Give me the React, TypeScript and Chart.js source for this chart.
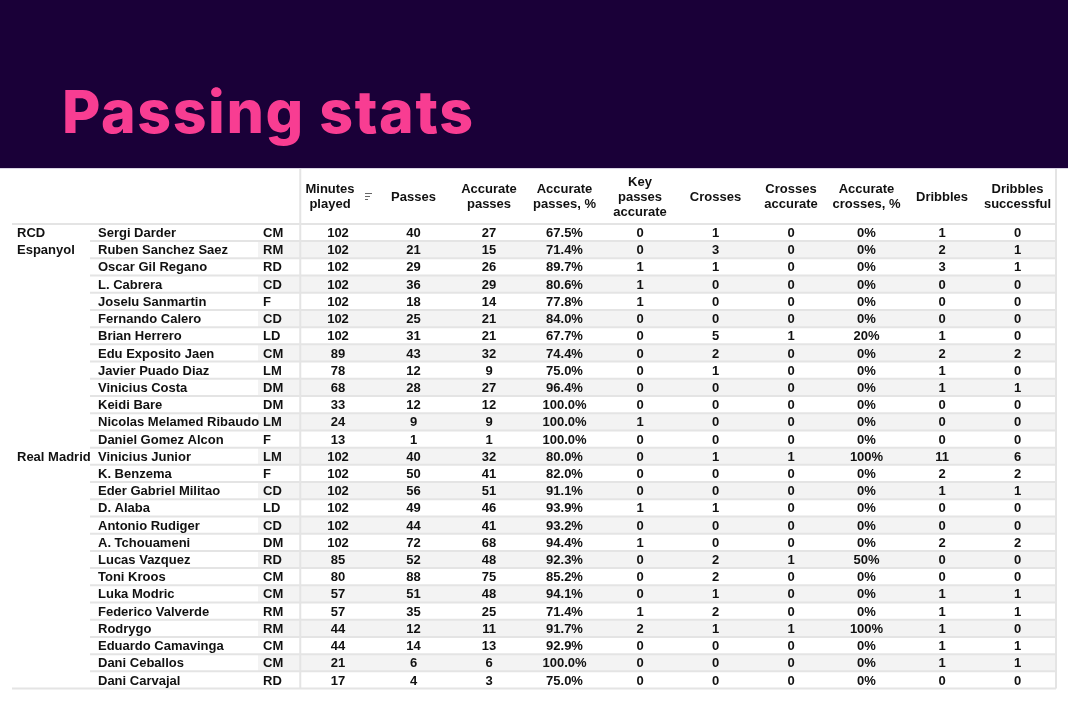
import React, { useEffect, useRef, useState } from "react";
import { Chart, registerables } from "chart.js";

Chart.register(...registerables);

// ---------- data ----------
const title = "Passing stats";

const teams = ["RCD Espanyol", "Real Madrid"];
const teamFirstRow = [0, 13];

const players = [
  "Sergi Darder", "Ruben Sanchez Saez", "Oscar Gil Regano", "L. Cabrera", "Joselu Sanmartin",
  "Fernando Calero", "Brian Herrero", "Edu Exposito Jaen", "Javier Puado Diaz", "Vinicius Costa",
  "Keidi Bare", "Nicolas Melamed Ribaudo", "Daniel Gomez Alcon",
  "Vinicius Junior", "K. Benzema", "Eder Gabriel Militao", "D. Alaba", "Antonio Rudiger",
  "A. Tchouameni", "Lucas Vazquez", "Toni Kroos", "Luka Modric", "Federico Valverde",
  "Rodrygo", "Eduardo Camavinga", "Dani Ceballos", "Dani Carvajal",
];
const positions = [
  "CM", "RM", "RD", "CD", "F", "CD", "LD", "CM", "LM", "DM", "DM", "LM", "F",
  "LM", "F", "CD", "LD", "CD", "DM", "RD", "CM", "CM", "RM", "RM", "CM", "CM", "RD",
];
const minutesPlayed = [102, 102, 102, 102, 102, 102, 102, 89, 78, 68, 33, 24, 13, 102, 102, 102, 102, 102, 102, 85, 80, 57, 57, 44, 44, 21, 17];
const passes = [40, 21, 29, 36, 18, 25, 31, 43, 12, 28, 12, 9, 1, 40, 50, 56, 49, 44, 72, 52, 88, 51, 35, 12, 14, 6, 4];
const accuratePasses = [27, 15, 26, 29, 14, 21, 21, 32, 9, 27, 12, 9, 1, 32, 41, 51, 46, 41, 68, 48, 75, 48, 25, 11, 13, 6, 3];
const accuratePassesPct = [67.5, 71.4, 89.7, 80.6, 77.8, 84.0, 67.7, 74.4, 75.0, 96.4, 100.0, 100.0, 100.0, 80.0, 82.0, 91.1, 93.9, 93.2, 94.4, 92.3, 85.2, 94.1, 71.4, 91.7, 92.9, 100.0, 75.0];
const keyPassesAccurate = [0, 0, 1, 1, 1, 0, 0, 0, 0, 0, 0, 1, 0, 0, 0, 0, 1, 0, 1, 0, 0, 0, 1, 2, 0, 0, 0];
const crosses = [1, 3, 1, 0, 0, 0, 5, 2, 1, 0, 0, 0, 0, 1, 0, 0, 1, 0, 0, 2, 2, 1, 2, 1, 0, 0, 0];
const crossesAccurate = [0, 0, 0, 0, 0, 0, 1, 0, 0, 0, 0, 0, 0, 1, 0, 0, 0, 0, 0, 1, 0, 0, 0, 1, 0, 0, 0];
const accurateCrossesPct = [0, 0, 0, 0, 0, 0, 20, 0, 0, 0, 0, 0, 0, 100, 0, 0, 0, 0, 0, 50, 0, 0, 0, 100, 0, 0, 0];
const dribbles = [1, 2, 3, 0, 0, 0, 1, 2, 1, 1, 0, 0, 0, 11, 2, 1, 0, 0, 2, 0, 0, 1, 1, 1, 1, 1, 0];
const dribblesSuccessful = [0, 1, 1, 0, 0, 0, 0, 2, 0, 1, 0, 0, 0, 6, 2, 1, 0, 0, 2, 0, 0, 1, 1, 0, 1, 1, 0];

const columnHeaders = [
  ["Minutes", "played"],
  ["Passes"],
  ["Accurate", "passes"],
  ["Accurate", "passes, %"],
  ["Key", "passes", "accurate"],
  ["Crosses"],
  ["Crosses", "accurate"],
  ["Accurate", "crosses, %"],
  ["Dribbles"],
  ["Dribbles", "successful"],
];

const statColumns = [
  minutesPlayed, passes, accuratePasses, accuratePassesPct, keyPassesAccurate,
  crosses, crossesAccurate, accurateCrossesPct, dribbles, dribblesSuccessful,
];
const columnDecimals = [null, null, null, 1, null, null, null, 0, null, null];

// ---------- layout / style ----------
const W = 1068;
const H = 712;
const BAND_H = 168;
const TITLE_WIDTH = 411;
const TABLE_LEFT = 12;
const TABLE_RIGHT = 1056;
const AREA_TOP = 170;
const AREA_BOTTOM = 700;
const COL0_PX = 338;
const COL_W = 75.5;
const ROW0_PX = 232.5;
const ROW_H = 17.21;
const HEADER_ROW = -2.12;
const TEXT_DY = 1;
const FONT = "bold 13px 'Liberation Sans', Arial, sans-serif";
const TEXT = "#111111";
const GRID = "#e4e4e4";
const STRIPE = "#f3f3f3";

function wrap(ctx: CanvasRenderingContext2D, text: string, maxW: number): string[] {
  const words = text.split(" ");
  const lines: string[] = [];
  let cur = "";
  for (const w of words) {
    const t = cur ? cur + " " + w : w;
    if (ctx.measureText(t).width > maxW && cur) {
      lines.push(cur);
      cur = w;
    } else cur = t;
  }
  if (cur) lines.push(cur);
  return lines;
}

const tablePlugin = {
  id: "tablePlugin",
  beforeDatasetsDraw(chart: any) {
    const ctx: CanvasRenderingContext2D = chart.ctx;
    const { left, right, top } = chart.chartArea;
    const xs = chart.scales.x;
    const ys = chart.scales.y;
    const n = players.length;
    ctx.save();
    ctx.fillStyle = STRIPE;
    for (let r = 1; r < n; r += 2) {
      const y0 = ys.getPixelForValue(r - 0.5);
      const y1 = ys.getPixelForValue(r + 0.5);
      ctx.fillRect(left + 246, y0, right - left - 246, y1 - y0);
    }
    ctx.strokeStyle = GRID;
    ctx.lineWidth = 2;
    for (let r = 0; r < n - 1; r++) {
      const y = ys.getPixelForValue(r + 0.5);
      ctx.beginPath();
      ctx.moveTo(left + 78, y);
      ctx.lineTo(right, y);
      ctx.stroke();
    }
    for (const v of [-0.5, n - 0.5]) {
      const y = ys.getPixelForValue(v);
      ctx.beginPath();
      ctx.moveTo(left, y);
      ctx.lineTo(right, y);
      ctx.stroke();
    }
    const yb = ys.getPixelForValue(n - 0.5);
    const xsep = xs.getPixelForValue(-0.5);
    ctx.beginPath();
    ctx.moveTo(xsep, top - 1);
    ctx.lineTo(xsep, yb);
    ctx.stroke();
    ctx.beginPath();
    ctx.moveTo(right, top - 1);
    ctx.lineTo(right, yb);
    ctx.stroke();
    ctx.strokeStyle = "#d9d3e3";
    ctx.lineWidth = 1;
    ctx.beginPath();
    ctx.moveTo(0, top - 1.5);
    ctx.lineTo(chart.width, top - 1.5);
    ctx.stroke();
    ctx.restore();
  },
  afterDatasetsDraw(chart: any) {
    const ctx: CanvasRenderingContext2D = chart.ctx;
    const { left } = chart.chartArea;
    const xs = chart.scales.x;
    const ys = chart.scales.y;
    ctx.save();
    ctx.font = FONT;
    ctx.fillStyle = TEXT;
    ctx.textBaseline = "middle";
    ctx.textAlign = "center";
    const hy = ys.getPixelForValue(HEADER_ROW) + TEXT_DY;
    columnHeaders.forEach((lines, c) => {
      const x = xs.getPixelForValue(c) - (c === 0 ? 8 : 0);
      lines.forEach((ln, i) => {
        ctx.fillText(ln, x, hy + (i - (lines.length - 1) / 2) * 15);
      });
    });
    ctx.strokeStyle = "#666";
    ctx.lineWidth = 1;
    const ix = xs.getPixelForValue(0) + 27;
    [7, 5, 3].forEach((w, i) => {
      ctx.beginPath();
      ctx.moveTo(ix, Math.round(hy) - 3.5 + i * 3);
      ctx.lineTo(ix + w, Math.round(hy) - 3.5 + i * 3);
      ctx.stroke();
    });
    ctx.textAlign = "left";
    teams.forEach((t, i) => {
      const lines = wrap(ctx, t, 78);
      lines.forEach((ln, k) => {
        ctx.fillText(ln, left + 5, ys.getPixelForValue(teamFirstRow[i] + k) + TEXT_DY);
      });
    });
    players.forEach((p, r) => {
      const y = ys.getPixelForValue(r) + TEXT_DY;
      ctx.fillText(p, left + 86, y);
      ctx.fillText(positions[r], left + 251, y);
    });
    ctx.textAlign = "center";
    chart.data.datasets.forEach((ds: any, di: number) => {
      const meta = chart.getDatasetMeta(di);
      const dec = columnDecimals[di];
      meta.data.forEach((el: any, r: number) => {
        const v = statColumns[di][r];
        const txt = dec === null ? String(v) : v.toFixed(dec) + "%";
        ctx.fillText(txt, el.x, el.y + TEXT_DY);
      });
    });
    ctx.restore();
  },
};

export default function App() {
  const ref = useRef<HTMLCanvasElement | null>(null);
  const titleRef = useRef<HTMLSpanElement | null>(null);
  const [spacing, setSpacing] = useState(0);

  useEffect(() => {
    document.body.style.margin = "0";
    if (titleRef.current) {
      const w = titleRef.current.getBoundingClientRect().width;
      setSpacing((TITLE_WIDTH - w) / (title.length - 1));
    }
    if (!ref.current) return;
    const datasets = statColumns.map((col, c) => ({
      label: columnHeaders[c].join(" "),
      data: col.map((_, r) => ({ x: c, y: r })),
      pointRadius: 0,
      pointHoverRadius: 0,
      showLine: false,
    }));
    const chart = new Chart(ref.current, {
      type: "scatter",
      data: { datasets },
      options: {
        responsive: false,
        animation: false,
        events: [],
        layout: { padding: { left: TABLE_LEFT, right: W - TABLE_RIGHT, top: AREA_TOP, bottom: H - AREA_BOTTOM } },
        plugins: { legend: { display: false }, tooltip: { enabled: false } },
        scales: {
          x: {
            type: "linear",
            display: false,
            min: (TABLE_LEFT - COL0_PX) / COL_W,
            max: (TABLE_RIGHT - COL0_PX) / COL_W,
          },
          y: {
            type: "linear",
            display: false,
            reverse: true,
            min: (AREA_TOP - ROW0_PX) / ROW_H,
            max: (AREA_BOTTOM - ROW0_PX) / ROW_H,
          },
        },
      },
      plugins: [tablePlugin],
    } as any);
    return () => chart.destroy();
  }, []);

  return (
    <div style={{ position: "relative", width: W, height: H, background: "#ffffff", overflow: "hidden" }}>
      <div style={{ position: "absolute", left: 0, top: 0, width: W, height: BAND_H, background: "#1a0038" }} />
      <div
        style={{
          position: "absolute",
          left: 62,
          top: 82,
          fontFamily: "Inter, 'Open Sans', sans-serif",
          fontWeight: 800,
          fontSize: 59,
          lineHeight: "59px",
          color: "#f83d92",
          whiteSpace: "nowrap",
        }}
      >
        <span ref={titleRef} style={{ letterSpacing: spacing }}>{title}</span>
      </div>
      <canvas ref={ref} width={W} height={H} style={{ position: "absolute", left: 0, top: 0, display: "block" }} />
    </div>
  );
}
